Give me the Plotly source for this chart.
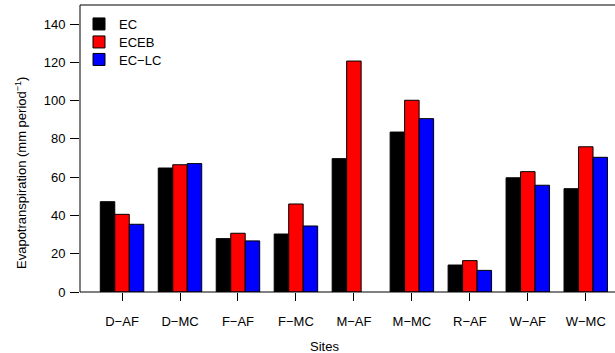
import plotly.graph_objects as go

sites = ["D\u2212AF", "D\u2212MC", "F\u2212AF", "F\u2212MC", "M\u2212AF", "M\u2212MC", "R\u2212AF", "W\u2212AF", "W\u2212MC"]
ec = [47.2, 64.8, 27.9, 30.3, 69.7, 83.6, 14.1, 59.7, 54.0]
eceb = [40.6, 66.5, 30.7, 46.0, 120.7, 100.2, 16.4, 62.9, 75.9]
eclc = [35.4, 67.1, 26.7, 34.5, None, 90.6, 11.3, 55.8, 70.4]
yticks = [0, 20, 40, 60, 80, 100, 120, 140]

FONT = "Liberation Sans, Arial, sans-serif"

W, H = 615, 353
L, R, T, B = 80, 0, 5, 61
pw, ph = W - L - R, H - T - B

def px_x(x):
    return (x - L) / pw

def px_y(y):
    return (H - B - y) / ph

series = [("EC", ec, "black", "legend", 24),
          ("ECEB", eceb, "#ff0000", "legend2", 42),
          ("EC\u2212LC", eclc, "#0000ff", "legend3", 59.5)]

fig = go.Figure()
legends = {}
for name, vals, col, lg, ly in series:
    fig.add_trace(go.Bar(x=sites, y=vals, name=name, legend=lg,
                         marker=dict(color=col, line=dict(color="black", width=1))))
    legends[lg] = dict(x=px_x(79), y=px_y(ly), xanchor="left", yanchor="middle",
                       font=dict(size=13), bgcolor="rgba(0,0,0,0)", itemwidth=30)

# plot area spans x 80..~628 in the original (cut off at the right edge)
x_lo, x_hi = -0.725, 8.725
x_vis_hi = x_lo + (x_hi - x_lo) * (615 - 80) / (627.8 - 80)

box = dict(color="black", width=1)
fig.update_layout(
    width=W, height=H,
    margin=dict(l=L, r=R, t=T, b=B, autoexpand=False),
    paper_bgcolor="white", plot_bgcolor="white",
    font=dict(family=FONT, size=13, color="black"),
    barmode="group", bargap=0.25, bargroupgap=0,
    showlegend=True,
    **legends,
    xaxis=dict(type="category", range=[x_lo, x_vis_hi],
               showline=False, ticks="outside", ticklen=8,
               tickcolor="black", showgrid=False, tickfont=dict(size=13),
               ticklabelstandoff=9, automargin=False),
    yaxis=dict(range=[0, 150], tickvals=yticks, showline=False,
               ticks="outside", ticklen=9, tickcolor="black",
               showgrid=False, zeroline=False, tickfont=dict(size=13),
               ticklabelstandoff=2, automargin=False),
    shapes=[
        dict(type="line", xref="paper", yref="paper", x0=0, x1=1.05, y0=1, y1=1, line=box),
        dict(type="line", xref="paper", yref="paper", x0=0, x1=1.05, y0=0, y1=0, line=box),
        dict(type="line", xref="paper", yref="paper", x0=0, x1=0, y0=0, y1=1, line=box),
    ],
    annotations=[
        dict(text="Evapotranspiration (mm period<sup>\u22121</sup>)", textangle=-90,
             xref="paper", yref="paper", x=px_x(21), y=px_y(173),
             xanchor="center", yanchor="middle", showarrow=False, font=dict(size=13)),
        dict(text="Sites", xref="paper", yref="paper", x=px_x(324), y=px_y(346),
             xanchor="center", yanchor="middle", showarrow=False, font=dict(size=13)),
    ],
)

fig.write_html("out.html", config={"displayModeBar": False, "staticPlot": True},
               post_script="document.body.style.margin='0';document.body.style.overflow='hidden';")
